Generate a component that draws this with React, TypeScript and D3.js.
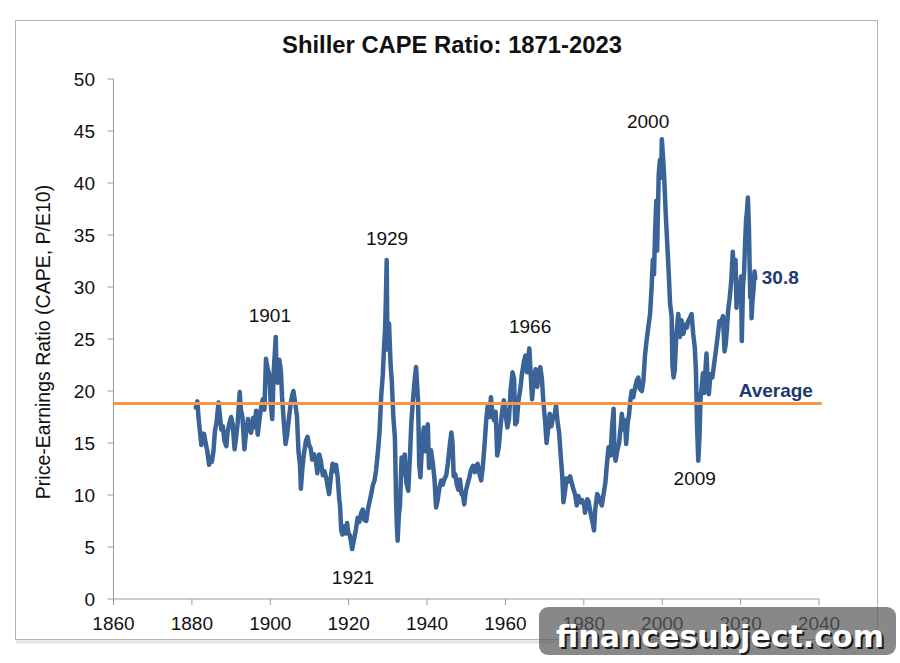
import React from 'react';
import * as d3 from 'd3';

type Pt = [number, number];

const xTicks = [1860, 1880, 1900, 1920, 1940, 1960, 1980, 2000, 2020, 2040];
const yTicks = [0, 5, 10, 15, 20, 25, 30, 35, 40, 45, 50];
const averageValue = 18.8;
const titleText = 'Shiller CAPE Ratio: 1871-2023';
const yAxisTitle = 'Price-Earnings Ratio (CAPE, P/E10)';

const cape1881to1900: Pt[] = [
  [1881.0, 18.4], [1881.4, 19.0], [1881.7, 17.4], [1882.0, 16.3], [1882.4, 14.8], [1882.7, 15.9],
  [1883.1, 15.9], [1883.5, 15.0], [1883.9, 14.3], [1884.4, 12.9], [1884.8, 13.6], [1885.1, 13.2],
  [1885.5, 14.2], [1885.9, 16.2], [1886.3, 17.0], [1886.8, 18.9], [1887.1, 17.8], [1887.5, 16.3],
  [1887.9, 16.6], [1888.3, 15.2], [1888.8, 14.7], [1889.1, 16.0], [1889.5, 16.8], [1890.0, 17.5],
  [1890.4, 16.8], [1890.9, 14.4], [1891.3, 15.6], [1891.7, 17.0], [1892.2, 19.9], [1892.5, 18.2],
  [1892.9, 17.5], [1893.4, 14.4], [1893.8, 15.9], [1894.3, 17.3], [1894.7, 16.4], [1895.1, 16.0],
  [1895.6, 17.4], [1896.0, 16.5], [1896.4, 18.1], [1896.8, 15.8], [1897.2, 17.1], [1897.6, 18.3],
  [1898.1, 19.2], [1898.5, 18.2], [1898.9, 23.1], [1899.3, 22.2], [1899.8, 21.5], [1900.1, 18.8],
  [1900.5, 17.3], [1900.9, 22.0],
];

const cape1901to1920: Pt[] = [
  [1901.4, 25.2], [1901.6, 21.5], [1901.9, 20.8], [1902.3, 23.0], [1902.7, 22.0], [1903.0, 19.5],
  [1903.4, 17.3], [1903.9, 14.9], [1904.3, 15.8], [1904.8, 17.5], [1905.2, 18.8], [1905.6, 19.6],
  [1905.9, 20.0], [1906.3, 19.0], [1906.8, 17.6], [1907.2, 14.2], [1907.6, 12.8], [1907.8, 10.6],
  [1908.2, 12.6], [1908.6, 14.0], [1909.1, 15.2], [1909.5, 15.6], [1909.9, 14.8], [1910.3, 14.5],
  [1910.7, 13.4], [1911.2, 13.9], [1911.6, 13.4], [1912.0, 12.1], [1912.5, 13.9], [1912.9, 13.3],
  [1913.4, 11.9], [1913.8, 12.3], [1914.3, 11.6], [1914.7, 10.7], [1915.0, 10.1], [1915.5, 11.9],
  [1915.9, 13.0], [1916.3, 12.3], [1916.8, 12.9], [1917.2, 11.7], [1917.6, 9.6], [1917.8, 9.0],
  [1918.1, 6.6], [1918.4, 6.2], [1918.8, 7.0], [1919.3, 6.3], [1919.6, 7.3], [1919.9, 6.4],
  [1920.3, 6.1], [1920.6, 5.5],
];

const cape1921to1940: Pt[] = [
  [1920.9, 4.8], [1921.3, 5.6], [1921.8, 6.6], [1922.3, 7.8], [1922.7, 7.4], [1923.2, 8.3],
  [1923.6, 8.6], [1924.0, 7.6], [1924.5, 7.5], [1924.9, 8.6], [1925.3, 9.3], [1925.8, 10.2],
  [1926.2, 11.0], [1926.6, 11.4], [1927.0, 12.4], [1927.5, 14.3], [1927.9, 16.2], [1928.3, 19.5],
  [1928.7, 21.5], [1929.0, 24.0], [1929.3, 26.0], [1929.5, 29.0], [1929.7, 32.6], [1929.9, 24.0],
  [1930.3, 26.5], [1930.7, 22.5], [1931.0, 21.0], [1931.4, 17.5], [1931.8, 15.5], [1932.1, 9.5],
  [1932.3, 7.0], [1932.5, 5.6], [1932.8, 8.0], [1933.1, 9.0], [1933.5, 13.6], [1933.9, 12.0],
  [1934.3, 13.9], [1934.7, 11.2], [1935.2, 10.4], [1935.6, 13.4], [1936.0, 17.0], [1936.4, 19.1],
  [1936.9, 21.3], [1937.2, 22.3], [1937.7, 19.1], [1938.0, 13.0], [1938.3, 11.7], [1938.8, 15.4],
  [1939.2, 16.5], [1939.6, 14.2], [1940.2, 16.8], [1940.5, 12.6],
];

const cape1941to1960: Pt[] = [
  [1941.0, 14.3], [1941.5, 13.0], [1941.9, 11.5], [1942.3, 8.8], [1942.7, 9.5], [1943.2, 10.8],
  [1943.6, 11.4], [1944.0, 11.0], [1944.5, 11.6], [1944.9, 11.9], [1945.3, 13.0], [1945.8, 14.8],
  [1946.2, 16.0], [1946.5, 15.0], [1946.8, 11.8], [1947.2, 12.0], [1947.6, 11.0], [1948.0, 10.5],
  [1948.4, 11.5], [1948.8, 10.1], [1949.2, 9.9], [1949.5, 9.1], [1949.9, 10.4], [1950.3, 11.0],
  [1950.8, 11.7], [1951.2, 12.4], [1951.7, 12.8], [1952.2, 12.2], [1952.6, 12.8], [1952.9, 13.0],
  [1953.4, 12.0], [1953.8, 11.4], [1954.2, 12.6], [1954.7, 15.0], [1955.1, 17.2], [1955.5, 18.7],
  [1955.9, 17.5], [1956.3, 19.4], [1956.7, 17.6], [1957.1, 17.2], [1957.5, 18.0], [1957.9, 13.8],
  [1958.3, 14.6], [1958.8, 16.8], [1959.2, 18.2], [1959.6, 19.1], [1960.0, 17.9], [1960.5, 16.5],
  [1960.9, 17.3],
];

const cape1961to1980: Pt[] = [
  [1961.3, 20.0], [1961.8, 21.8], [1962.2, 21.2], [1962.5, 16.8], [1962.9, 17.0], [1963.3, 19.0],
  [1963.8, 20.2], [1964.2, 21.6], [1964.7, 22.8], [1965.1, 23.4], [1965.5, 21.8], [1965.8, 23.2],
  [1966.1, 24.1], [1966.5, 21.2], [1966.8, 19.2], [1967.2, 21.0], [1967.7, 22.1], [1968.1, 20.4],
  [1968.5, 21.8], [1968.9, 22.3], [1969.3, 21.2], [1969.7, 18.8], [1970.1, 17.2], [1970.5, 15.0],
  [1970.9, 16.4], [1971.3, 17.8], [1971.7, 16.6], [1972.1, 17.4], [1972.6, 17.8], [1972.9, 18.6],
  [1973.3, 17.0], [1973.7, 16.0], [1974.1, 13.8], [1974.5, 11.8], [1974.8, 9.3], [1975.2, 10.4],
  [1975.6, 11.6], [1976.0, 11.3], [1976.5, 11.8], [1976.9, 11.2], [1977.3, 10.6], [1977.8, 10.0],
  [1978.2, 9.0], [1978.6, 9.9], [1979.1, 9.3], [1979.6, 9.5], [1980.1, 9.0], [1980.3, 8.3],
  [1980.9, 9.6],
];

const cape1981to2000: Pt[] = [
  [1981.2, 9.4], [1981.7, 8.3], [1982.1, 7.6], [1982.6, 6.6], [1982.9, 8.6], [1983.4, 10.1],
  [1983.8, 9.8], [1984.2, 9.3], [1984.6, 9.0], [1985.0, 10.0], [1985.5, 11.2], [1985.9, 13.0],
  [1986.3, 14.6], [1986.8, 13.8], [1987.2, 16.5], [1987.6, 18.3], [1987.85, 13.8], [1988.1, 13.3],
  [1988.5, 14.2], [1989.0, 15.0], [1989.4, 16.6], [1989.7, 17.8], [1990.1, 16.3], [1990.5, 17.2],
  [1990.8, 14.9], [1991.2, 17.0], [1991.5, 17.6], [1991.9, 19.2], [1992.2, 20.0], [1992.6, 19.4],
  [1993.0, 20.2], [1993.5, 21.0], [1993.9, 21.3], [1994.3, 20.2], [1994.8, 20.0], [1995.2, 21.0],
  [1995.6, 23.4], [1996.0, 24.8], [1996.4, 26.0], [1996.9, 27.4], [1997.3, 30.0], [1997.6, 32.6],
  [1997.9, 31.2], [1998.2, 35.5], [1998.5, 38.3], [1998.7, 33.5], [1999.1, 40.8], [1999.4, 42.2],
  [1999.7, 40.5], [1999.9, 44.2], [2000.2, 42.5], [2000.5, 40.6],
];

const cape2001to2023: Pt[] = [
  [2000.9, 37.0], [2001.2, 34.8], [2001.7, 31.0], [2002.0, 28.4], [2002.4, 27.2], [2002.6, 22.5],
  [2002.9, 21.3], [2003.2, 22.0], [2003.6, 25.5], [2004.1, 27.4], [2004.5, 25.2], [2004.9, 26.8],
  [2005.4, 25.5], [2005.9, 26.4], [2006.3, 26.1], [2006.6, 26.7], [2007.0, 27.0], [2007.5, 27.4],
  [2007.9, 25.5], [2008.3, 24.2], [2008.6, 22.0], [2008.9, 16.5], [2009.2, 13.3], [2009.5, 15.5],
  [2009.8, 19.5], [2010.1, 20.5], [2010.4, 21.7], [2010.7, 19.8], [2011.1, 22.5], [2011.3, 23.6],
  [2011.7, 20.0], [2011.9, 19.7], [2012.3, 21.6], [2012.8, 21.3], [2013.2, 22.5], [2013.6, 23.6],
  [2014.0, 24.8], [2014.6, 26.7], [2015.0, 26.5], [2015.5, 27.2], [2015.9, 23.8], [2016.2, 24.5],
  [2016.5, 25.8], [2016.8, 27.7], [2017.2, 28.9], [2017.6, 30.5], [2018.0, 33.4], [2018.3, 31.2],
  [2018.7, 32.6], [2018.95, 28.0], [2019.2, 29.5], [2019.5, 30.0], [2019.8, 29.8], [2020.1, 31.0],
  [2020.3, 24.8], [2020.6, 30.0], [2020.9, 31.5], [2021.1, 33.8], [2021.4, 36.5], [2021.6, 37.2],
  [2021.85, 38.6], [2022.1, 36.0], [2022.45, 29.0], [2022.65, 30.5], [2022.8, 27.0], [2023.0, 28.5],
  [2023.3, 29.8], [2023.55, 31.5], [2023.75, 30.8],
];

const yearLabels = ['1901', '1929', '1921', '1966', '2000', '2009'];
const yearLabelYears = [1899.9, 1929.8, 1921.1, 1966.3, 1996.4, 2008.3];
const yearLabelValues = [26.6, 34.0, 1.45, 25.6, 45.3, 11.0];

const latestLabel = '30.8';
const latestLabelAt: Pt = [2025.4, 30.3];
const averageLabel = 'Average';
const averageLabelAt: Pt = [2019.5, 19.4];

const watermark = 'financesubject.com';

export default function App() {
  const W = 900;
  const H = 663;
  const x = d3.scaleLinear().domain([1860, 2040]).range([113.5, 819]);
  const y = d3.scaleLinear().domain([0, 50]).range([599, 79]);
  const data: Pt[] = [
    ...cape1881to1900,
    ...cape1901to1920,
    ...cape1921to1940,
    ...cape1941to1960,
    ...cape1961to1980,
    ...cape1981to2000,
    ...cape2001to2023,
  ];
  const line = d3
    .line<Pt>()
    .x((d) => x(d[0]))
    .y((d) => y(d[1]));

  const font = '"Liberation Sans", Arial, sans-serif';
  const axisColor = '#9a9a9a';
  const navy = '#1f3a6e';

  return (
    <svg
      width={W}
      height={H}
      style={{ position: 'absolute', left: 0, top: 0, background: '#fff' }}
      fontFamily={font}
    >
      <rect x={0} y={0} width={W} height={H} fill="#fff" />
      {/* frame */}
      <line x1={16} x2={878} y1={642} y2={642} stroke="#e2e2e2" strokeWidth={3} />
      <rect x={15.5} y={20.5} width={862} height={619} fill="#fff" stroke="#b5b5b5" strokeWidth={1} />

      <text x={452} y={53} textAnchor="middle" fontSize={23.8} fontWeight="bold" fill="#111">
        {titleText}
      </text>

      {/* y axis */}
      <line x1={x(1860)} x2={x(1860)} y1={y(0)} y2={y(50)} stroke={axisColor} strokeWidth={1} />
      {yTicks.map((t) => (
        <g key={'y' + t}>
          <line x1={x(1860) - 6} x2={x(1860)} y1={y(t)} y2={y(t)} stroke={axisColor} />
          <text x={95} y={y(t)} dy="0.35em" textAnchor="end" fontSize={19} fill="#111">
            {t}
          </text>
        </g>
      ))}
      {/* x axis */}
      <line x1={x(1860)} x2={x(2040)} y1={y(0)} y2={y(0)} stroke={axisColor} strokeWidth={1} />
      {xTicks.map((t) => (
        <g key={'x' + t}>
          <line x1={x(t)} x2={x(t)} y1={y(0)} y2={y(0) + 6} stroke={axisColor} />
          <text x={x(t)} y={630} textAnchor="middle" fontSize={19} fill="#111">
            {t}
          </text>
        </g>
      ))}

      <text
        transform={`translate(50, ${(y(0) + y(50)) / 2 + 3}) rotate(-90)`}
        textAnchor="middle"
        fontSize={19.5}
        fill="#111"
      >
        {yAxisTitle}
      </text>

      {/* series */}
      <path
        d={line(data) || ''}
        fill="none"
        stroke="#3a6497"
        strokeWidth={4.5}
        strokeLinejoin="round"
        strokeLinecap="round"
      />
      <line
        x1={x(1860)}
        x2={x(2040.7)}
        y1={y(averageValue)}
        y2={y(averageValue)}
        stroke="#f79646"
        strokeWidth={3}
      />

      {yearLabels.map((l, i) => (
        <text
          key={l}
          x={x(yearLabelYears[i])}
          y={y(yearLabelValues[i])}
          textAnchor="middle"
          fontSize={19}
          fill="#111"
        >
          {l}
        </text>
      ))}
      <text x={x(latestLabelAt[0])} y={y(latestLabelAt[1])} fontSize={19} fontWeight="bold" fill={navy}>
        {latestLabel}
      </text>
      <text x={x(averageLabelAt[0])} y={y(averageLabelAt[1])} fontSize={19} fontWeight="bold" fill={navy}>
        {averageLabel}
      </text>

      {/* watermark */}
      <rect x={539} y={607} width={357} height={48} rx={9} fill="#5a5a5a" fillOpacity={0.72} />
      <text
        x={720}
        y={647}
        textAnchor="middle"
        fontFamily='"DejaVu Sans", Verdana, sans-serif'
        fontWeight="bold"
        fontSize={30}
        fill="#1a1a1a"
        transform="translate(2,2)"
      >
        {watermark}
      </text>
      <text
        x={720}
        y={647}
        textAnchor="middle"
        fontFamily='"DejaVu Sans", Verdana, sans-serif'
        fontWeight="bold"
        fontSize={30}
        fill="#fff"
      >
        {watermark}
      </text>
    </svg>
  );
}
